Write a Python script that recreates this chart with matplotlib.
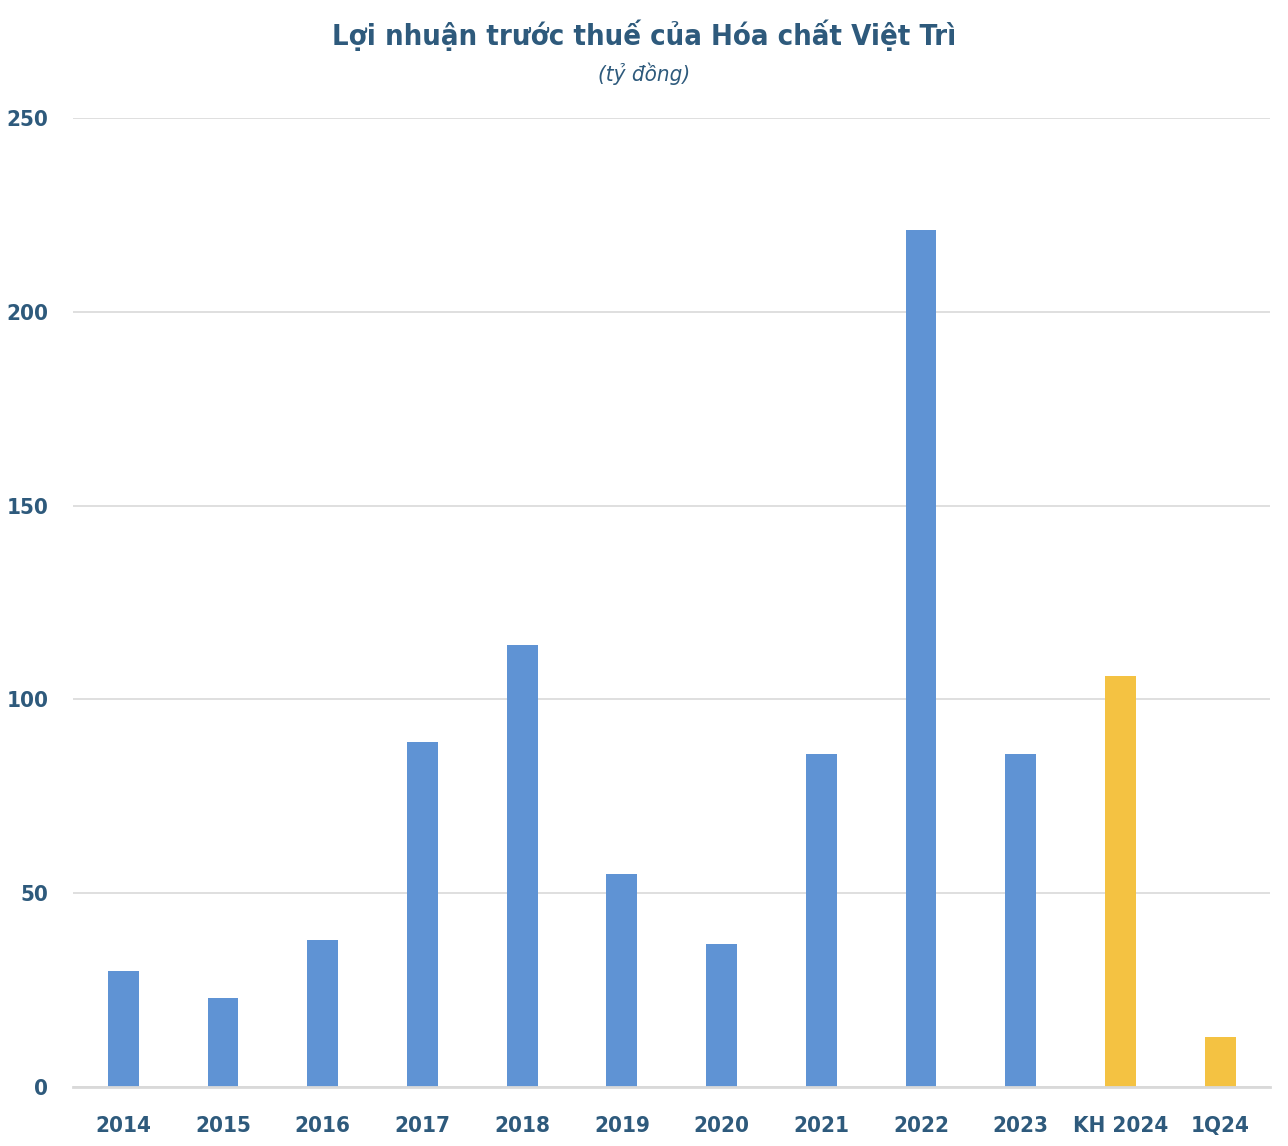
import matplotlib
matplotlib.use("Agg")
import matplotlib.pyplot as plt

categories = ["2014", "2015", "2016", "2017", "2018", "2019", "2020",
              "2021", "2022", "2023", "KH 2024", "1Q24"]
profit = [30, 23, 38, 89, 114, 55, 37, 86, 221, 86, 106, 13]
is_plan = [False] * 10 + [True, True]

BLUE = "#5F93D4"
YELLOW = "#F4C242"
TEXT = "#2E5A7C"

plt.rcParams["font.family"] = ["DejaVu Sans"]
plt.rcParams["font.stretch"] = "condensed"

fig = plt.figure(figsize=(12.88, 11.46), dpi=100)
ax = fig.add_axes([0.057, 0.0515, 0.929, 0.8455])

x = list(range(len(categories)))
colors = [YELLOW if p else BLUE for p in is_plan]
ax.bar(x, profit, width=0.31, color=colors, zorder=3)

ax.set_xlim(-0.5, len(categories) - 0.5)
ax.set_ylim(0, 250)
ax.set_yticks([0, 50, 100, 150, 200, 250])
ax.grid(True, axis="y", color="#D9D9D9", linewidth=1.2, zorder=0)

for side in ["top", "right", "left"]:
    ax.spines[side].set_visible(False)
ax.spines["bottom"].set_color("#D9D9D9")
ax.spines["bottom"].set_linewidth(2)
ax.spines["bottom"].set_zorder(4)

ax.set_xticks(x)
ax.set_xticklabels(categories)
ax.tick_params(axis="both", length=0, labelsize=16, labelcolor=TEXT)
ax.tick_params(axis="x", pad=21)
ax.tick_params(axis="y", pad=18)
for lbl in ax.get_xticklabels() + ax.get_yticklabels():
    lbl.set_fontweight("bold")
    lbl.set_fontstretch("condensed")

fig.text(0.5, 0.969, "Lợi nhuận trước thuế của Hóa chất Việt Trì", ha="center",
         va="center", fontsize=21, fontweight="bold", color=TEXT,
         fontstretch="condensed")
fig.text(0.5, 0.936, "(tỷ đồng)", ha="center", va="center", fontsize=16,
         style="italic", color=TEXT, fontstretch="condensed")

fig.savefig("out.png", dpi=100)
